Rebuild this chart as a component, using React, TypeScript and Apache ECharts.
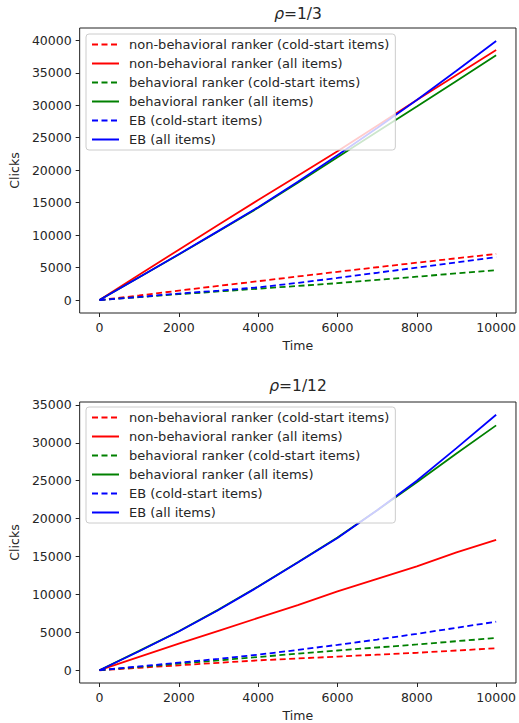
import React, { useEffect, useRef } from "react";
import * as echarts from "echarts";

const times = [0, 1000, 2000, 3000, 4000, 5000, 6000, 7000, 8000, 9000, 10000];
const seriesNames = [
  "non-behavioral ranker (cold-start items)",
  "non-behavioral ranker (all items)",
  "behavioral ranker (cold-start items)",
  "behavioral ranker (all items)",
  "EB (cold-start items)",
  "EB (all items)",
];
const seriesColors = ["#ff0000", "#ff0000", "#008000", "#008000", "#0000ff", "#0000ff"];
const seriesDashed = [true, false, true, false, true, false];

// rho = 1/3
const topNbCold = [0, 700, 1450, 2180, 2900, 3630, 4350, 5050, 5750, 6430, 7100];
const topNbAll = [0, 3900, 7750, 11600, 15400, 19150, 22900, 26850, 30800, 34650, 38500];
const topBCold = [0, 450, 900, 1320, 1750, 2170, 2600, 3100, 3600, 4100, 4600];
const topBAll = [0, 3500, 7000, 10600, 14200, 18050, 22000, 25900, 29800, 33750, 37700];
const topEbCold = [0, 480, 1000, 1450, 1950, 2650, 3400, 4200, 5000, 5800, 6600];
const topEbAll = [0, 3500, 7050, 10650, 14300, 18200, 22300, 26500, 30800, 35300, 39900];

// rho = 1/12
const botNbCold = [0, 320, 650, 980, 1300, 1550, 1800, 2050, 2300, 2600, 2900];
const botNbAll = [0, 1750, 3500, 5200, 6900, 8600, 10400, 12050, 13700, 15550, 17200];
const botBCold = [0, 430, 870, 1300, 1750, 2180, 2600, 3000, 3400, 3830, 4250];
const botBAll = [0, 2550, 5150, 8000, 11050, 14250, 17500, 21100, 24800, 28600, 32300];
const botEbCold = [0, 500, 1000, 1500, 2050, 2680, 3350, 4050, 4800, 5600, 6400];
const botEbAll = [0, 2500, 5100, 7950, 11000, 14200, 17450, 21100, 25000, 29300, 33700];

const xTicks = [0, 2000, 4000, 6000, 8000, 10000];
const topYTicks = [0, 5000, 10000, 15000, 20000, 25000, 30000, 35000, 40000];
const botYTicks = [0, 5000, 10000, 15000, 20000, 25000, 30000, 35000];
const titles = ["1/3", "1/12"];

const FONT = "DejaVu Sans";
const TEXT = "#262626";

export default function App() {
  const ref = useRef<HTMLDivElement>(null);
  useEffect(() => {
    if (!ref.current) return;
    const chart = echarts.init(ref.current, null, { renderer: "svg" });
    const topSets = [topNbCold, topNbAll, topBCold, topBAll, topEbCold, topEbAll];
    const botSets = [botNbCold, botNbAll, botBCold, botBAll, botEbCold, botEbAll];

    const grids = [
      { left: 79, top: 28, width: 438, height: 285 },
      { left: 79, top: 402, width: 438, height: 282 },
    ];
    const yRanges = [
      [-1995, 41895],
      [-1685, 35385],
    ];
    const yTicks = [topYTicks, botYTicks];

    const xAxis = grids.map((_, i) => ({
      type: "value",
      gridIndex: i,
      min: -500,
      max: 10500,
      name: "Time",
      nameLocation: "middle",
      nameGap: 26,
      nameTextStyle: { fontFamily: FONT, fontSize: 12.5, color: TEXT },
      axisLine: { show: false, onZero: false },
      splitLine: { show: false },
      axisTick: {
        show: true,
        length: 4,
        customValues: xTicks,
        lineStyle: { color: "#222", width: 1 },
      },
      axisLabel: {
        customValues: xTicks,
        margin: 8,
        fontFamily: FONT,
        fontSize: 12.5,
        color: TEXT,
        formatter: (v: number) => String(v),
      },
    }));
    const yAxis = grids.map((_, i) => ({
      type: "value",
      gridIndex: i,
      min: yRanges[i][0],
      max: yRanges[i][1],
      name: "Clicks",
      nameLocation: "middle",
      nameGap: 54,
      nameTextStyle: { fontFamily: FONT, fontSize: 12.5, color: TEXT },
      axisLine: { show: false, onZero: false },
      splitLine: { show: false },
      axisTick: {
        show: true,
        length: 4,
        customValues: yTicks[i],
        lineStyle: { color: "#222", width: 1 },
      },
      axisLabel: {
        customValues: yTicks[i],
        margin: 8,
        fontFamily: FONT,
        fontSize: 12.5,
        color: TEXT,
        formatter: (v: number) => String(v),
      },
    }));

    const series: any[] = [];
    [topSets, botSets].forEach((sets, gi) => {
      sets.forEach((vals, si) => {
        series.push({
          type: "line",
          name: seriesNames[si],
          xAxisIndex: gi,
          yAxisIndex: gi,
          symbol: "none",
          showSymbol: false,
          smooth: false,
          data: times.map((t, k) => [t, vals[k]]),
          lineStyle: {
            color: seriesColors[si],
            width: 1.8,
            type: seriesDashed[si] ? [6, 3.5] : "solid",
          },
          itemStyle: { color: seriesColors[si] },
        });
      });
    });

    const legendTops = [34, 407];
    const legend = legendTops.map((top) => ({
      left: 86,
      top,
      orient: "vertical",
      data: seriesNames,
      itemWidth: 27,
      itemHeight: 13,
      itemGap: 6,
      padding: [4, 6, 4, 5],
      backgroundColor: "rgba(255,255,255,0.8)",
      borderColor: "#cccccc",
      borderWidth: 1,
      borderRadius: 3,
      selectedMode: false,
      itemStyle: { opacity: 0 },
      textStyle: {
        fontFamily: FONT,
        fontSize: 13,
        lineHeight: 13,
        color: TEXT,
        padding: [0, 0, 0, 5],
      },
    }));

    const title = titles.map((t, i) => ({
      text: "{i|ρ}=" + t,
      left: 298,
      top: i === 0 ? 6 : 378,
      textAlign: "center",
      padding: 0,
      textStyle: {
        fontFamily: FONT,
        fontSize: 15.5,
        fontWeight: "normal",
        color: TEXT,
        rich: {
          i: { fontFamily: FONT, fontSize: 15.5, fontStyle: "italic", color: TEXT },
        },
      },
    }));

    chart.setOption({
      animation: false,
      backgroundColor: "#ffffff",
      title,
      legend,
      grid: grids.map((g) => ({
        ...g,
        show: true,
        borderColor: "#222",
        borderWidth: 1,
        backgroundColor: "transparent",
      })),
      xAxis,
      yAxis,
      series,
    });
    return () => chart.dispose();
  }, []);
  return (
    <div
      ref={ref}
      style={{ position: "fixed", left: 0, top: 0, width: 519, height: 723 }}
    />
  );
}
